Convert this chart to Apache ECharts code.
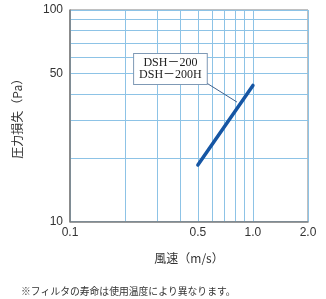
<!DOCTYPE html>
<html>
<head>
<meta charset="utf-8">
<script src="https://cdn.jsdelivr.net/npm/echarts@6/dist/echarts.min.js"></script>
<style>
html,body{margin:0;padding:0;background:#fff;}
#c{width:326px;height:299px;}
</style>
</head>
<body>
<div id="c"></div>
<script>
// ---- data ----
const seriesName = 'DSH－200 / DSH－200H';
const speed = [0.5, 1.0];              // 風速 (m/s)
const pressureLoss = [18.5, 44];       // 圧力損失 (Pa)
const xGridValues = [0.1, 0.2, 0.3, 0.4, 0.5, 0.6, 0.7, 0.8, 0.9, 1.0, 2.0];
const xLabelValues = [0.1, 0.5, 1.0, 2.0];
const yGridValues = [10, 20, 30, 40, 50, 60, 70, 80, 90, 100];
const yLabelValues = [10, 50, 100];
const annotationLines = ['DSH－200', 'DSH－200H'];
const annotationAt = [0.354, 52.6];
const arrowFrom = [0.546, 45.7];
const arrowTo = [0.818, 36.7];
const xName = '風速（m/s）';
const yName = '圧力損失（Pa）';
const footnote = '※フィルタの寿命は使用温度により異なります。';

const lineData = speed.map((v, i) => [v, pressureLoss[i]]);
const sans = 'Liberation Sans, Arial, Noto Sans CJK JP, sans-serif';
const gridColor = '#8dc3e6';

const chart = echarts.init(document.getElementById('c'), null, {renderer: 'canvas'});
chart.setOption({
  animation: false,
  backgroundColor: '#fff',
  textStyle: {fontFamily: sans},
  grid: {left: 70, right: 18, top: 10, bottom: 77.5, show: true, borderColor: '#808080', borderWidth: 1, containLabel: false},
  title: {
    text: footnote, left: 16, top: 281,
    textStyle: {fontSize: 9.8, fontWeight: 'normal', color: '#333', fontFamily: 'Noto Sans CJK JP, sans-serif'}
  },
  xAxis: {
    type: 'log', logBase: 10, min: 0.1, max: 2.0,
    name: xName, nameLocation: 'middle', nameGap: 31,
    nameTextStyle: {fontSize: 12, color: '#333', fontFamily: 'Noto Sans CJK JP, sans-serif'},
    axisLine: {show: true, lineStyle: {color: '#7a7a7a', width: 1.5}},
    axisTick: {show: false, customValues: xGridValues},
    axisLabel: {customValues: xLabelValues, formatter: v => Number(v).toFixed(1), fontSize: 12, color: '#333', margin: 5},
    splitLine: {show: true, lineStyle: {color: gridColor, width: 1}},
    minorSplitLine: {show: false}
  },
  yAxis: {
    type: 'log', logBase: 10, min: 10, max: 100,
    name: yName, nameLocation: 'middle', nameGap: 47, nameRotate: 90,
    nameTextStyle: {fontSize: 12, color: '#333', fontFamily: 'Noto Sans CJK JP, sans-serif'},
    axisLine: {show: true, lineStyle: {color: '#7a7a7a', width: 1.5}},
    axisTick: {show: false, customValues: yGridValues},
    axisLabel: {customValues: yLabelValues, formatter: v => String(Math.round(v)), fontSize: 12, color: '#333', margin: 7},
    splitLine: {show: true, lineStyle: {color: gridColor, width: 1}}
  },
  series: [{
    name: seriesName,
    type: 'line',
    data: lineData,
    symbol: 'none',
    lineStyle: {color: '#1656a4', width: 3.5, cap: 'round'},
    markPoint: {
      silent: true,
      data: [{
        coord: annotationAt, symbol: 'rect', symbolSize: 1,
        itemStyle: {color: 'rgba(0,0,0,0)'},
        label: {
          show: true, position: 'inside',
          formatter: annotationLines.join('\n'),
          fontFamily: 'Liberation Serif, Times New Roman, Noto Sans CJK JP, serif',
          fontSize: 12, lineHeight: 11.5, color: '#222',
          backgroundColor: '#fff', borderColor: '#7f99b5', borderWidth: 1,
          padding: [4, 5, 3, 5]
        }
      }]
    },
    markLine: {
      silent: true,
      symbol: ['none', 'arrow'], symbolSize: [0, 6],
      lineStyle: {color: '#40618c', width: 1, type: 'solid'},
      label: {show: false},
      data: [[{coord: arrowFrom}, {coord: arrowTo}]]
    }
  }]
});
</script>
</body>
</html>
